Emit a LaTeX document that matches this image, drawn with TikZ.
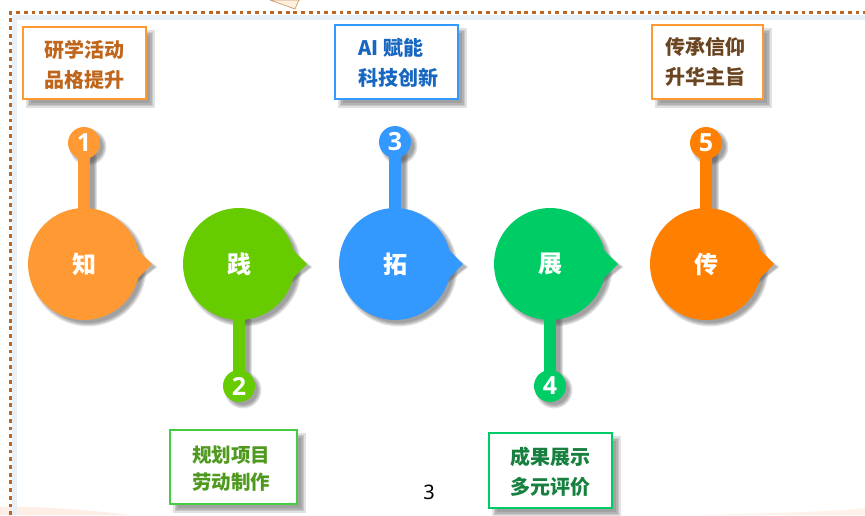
\documentclass[tikz,border=0pt]{standalone}
\usepackage{fontspec}
\setmainfont{Open Sans}
\newfontfamily\plainnum{Noto Sans}
\newfontfamily\cjk{Noto Sans CJK SC}
\usetikzlibrary{backgrounds}
\definecolor{dotc}{HTML}{C0651F}
\definecolor{frameglow}{HTML}{E8F0F7}
\definecolor{cA}{HTML}{FF9933}
\definecolor{cB}{HTML}{66CC00}
\definecolor{cC}{HTML}{3399FF}
\definecolor{cD}{HTML}{00CC66}
\definecolor{cE}{HTML}{FF8000}
\definecolor{tA}{HTML}{C0661C}
\definecolor{tB}{HTML}{4F9A1E}
\definecolor{tC}{HTML}{1766C0}
\definecolor{tD}{HTML}{17803F}
\definecolor{tE}{HTML}{6B4420}
\definecolor{bB}{HTML}{44CC44}
\tikzset{
  big/.style={circle,minimum size=112pt,inner sep=0pt,fill=#1,text=white,font=\cjk\bfseries\fontsize{24}{26}\selectfont},
  num/.style={circle,minimum size=32pt,inner sep=0pt,fill=#1,text=white,font=\bfseries\fontsize{25}{27}\selectfont},
  stem/.style={line width=12pt,draw=#1,shorten <=-3pt,shorten >=-3pt},
  tag/.style={rectangle,draw=#1,line width=1.8pt,fill=white,inner sep=0pt},
  tagtext/.style={text=#1,align=center,inner sep=0pt,font=\cjk\bfseries\fontsize{20}{30}\selectfont},
  soft/.style={black!70,opacity=.17},
}
% shadow of a circular node
\newcommand\shc[2]{\begin{scope}[on background layer]
  \foreach \e in {0,1.2,2.4,3.6}{\fill[soft] ([shift={(4,4)}]#1.center) circle ({#2+2.4-\e});}
  \end{scope}}
% shadow of a rectangular node
\newcommand\shr[1]{\begin{scope}[on background layer]
  \foreach \e in {-2,-.5,1,2.5}{\fill[soft] ([shift={(6+\e,6+\e)}]#1.north west) rectangle ([shift={(6-\e,6-\e)}]#1.south east);}
  \end{scope}}
% shadow of a stem
\newcommand\shs[2]{\begin{scope}[on background layer]
  \foreach \e in {12,14,16,18}{\draw[soft,line width=\e pt] ([shift={(4,3)}]#1.center) -- ([shift={(4,3)}]#2.center);}
  \end{scope}}
% the pointer of a circle
\newcommand\tip[2]{\begin{scope}[on background layer]
  \foreach \e in {0,1.2,2.4}{\fill[soft] ([shift={(45+3,-18+3-\e)}]#1.center) -- ([shift={(68+3+\e,3)}]#1.center) -- ([shift={(45+3,18+3+\e)}]#1.center) -- cycle;}
  \end{scope}
  \fill[#2] ([shift={(51,-17)}]#1.center) -- ([shift={(68,0)}]#1.center) -- ([shift={(51,17)}]#1.center) -- cycle;}
\begin{document}
\begin{tikzpicture}[x=1pt,y=-1pt]
\useasboundingbox (0,0) rectangle (865,515);
% bottom tint
\fill[red!30!orange,opacity=.10] (0,515) -- (0,507) .. controls (40,506) and (90,510) .. (130,515) -- cycle;
\fill[red!30!orange,opacity=.08] (700,515) .. controls (770,513) and (830,512) .. (865,508) -- (865,515) -- cycle;
% dotted frame
\draw[line width=5pt,frameglow] (14,515) -- (14,17) -- (865,17);
\draw[line width=3.8pt,dotc,dash pattern=on 3.8pt off 3.9pt] (10.5,515) -- (10.5,12.5) -- (865,12.5);
% paper corner at the top
\filldraw[fill=orange!12,draw=brown!80,line width=.7pt] (270,0) -- (284,5) -- (295,9) -- (299,0) -- cycle;
% circles
\node[big=cA] (k1) at (84,264) {知};
\node[big=cB] (k2) at (239,264) {践};
\node[big=cC] (k3) at (395,264) {拓};
\node[big=cD] (k4) at (550,264) {展};
\node[big=cE] (k5) at (706,264) {传};
\node[num=cA] (n1) at (84,143) {1};
\node[num=cB] (n2) at (239,386) {2};
\node[num=cC] (n3) at (395,142) {3};
\node[num=cD] (n4) at (550,386) {4};
\node[num=cE] (n5) at (706,143) {5};
\draw[stem=cA] (k1) -- (n1);
\draw[stem=cB] (k2) -- (n2);
\draw[stem=cC] (k3) -- (n3);
\draw[stem=cD] (k4) -- (n4);
\draw[stem=cE] (k5) -- (n5);
\tip{k1}{cA}\tip{k2}{cB}\tip{k3}{cC}\tip{k4}{cD}\tip{k5}{cE}
\shs{k1}{n1}\shs{k2}{n2}\shs{k3}{n3}\shs{k4}{n4}\shs{k5}{n5}
\shc{k1}{56}\shc{k2}{56}\shc{k3}{56}\shc{k4}{56}\shc{k5}{56}
\shc{n1}{16}\shc{n2}{16}\shc{n3}{16}\shc{n4}{16}\shc{n5}{16}
% tags
\node[tag=cA,minimum width=123pt,minimum height=72pt] (b1) at (84.5,63) {};
\node[tag=bB,minimum width=127pt,minimum height=74pt] (b2) at (233.5,467) {};
\node[tag=cC,minimum width=123pt,minimum height=74pt] (b3) at (396.5,62) {};
\node[tag=cD,minimum width=123pt,minimum height=75pt] (b4) at (550.5,470.5) {};
\node[tag=cA,minimum width=111pt,minimum height=74pt] (b5) at (707.5,62) {};
\node[tagtext=tA] (t1) at (84,65) {研学活动\\品格提升};
\node[tagtext=tB,font=\cjk\bfseries\fontsize{19.5}{27}\selectfont] (t2) at (231,468.5) {规划项目\\劳动制作};
\node[tagtext=tC,align=left] (t3) at (398.5,63) {AI 赋能\\科技创新};
\node[tagtext=tD] (t4) at (550,472) {成果展示\\多元评价};
\node[tagtext=tE] (t5) at (705,62) {传承信仰\\升华主旨};
\shr{b1}\shr{b2}\shr{b3}\shr{b4}\shr{b5}
% page number
\node[font=\plainnum\fontsize{20}{22}\selectfont,text=black,inner sep=0pt] (pg) at (429,492) {3};
\end{tikzpicture}
\end{document}
